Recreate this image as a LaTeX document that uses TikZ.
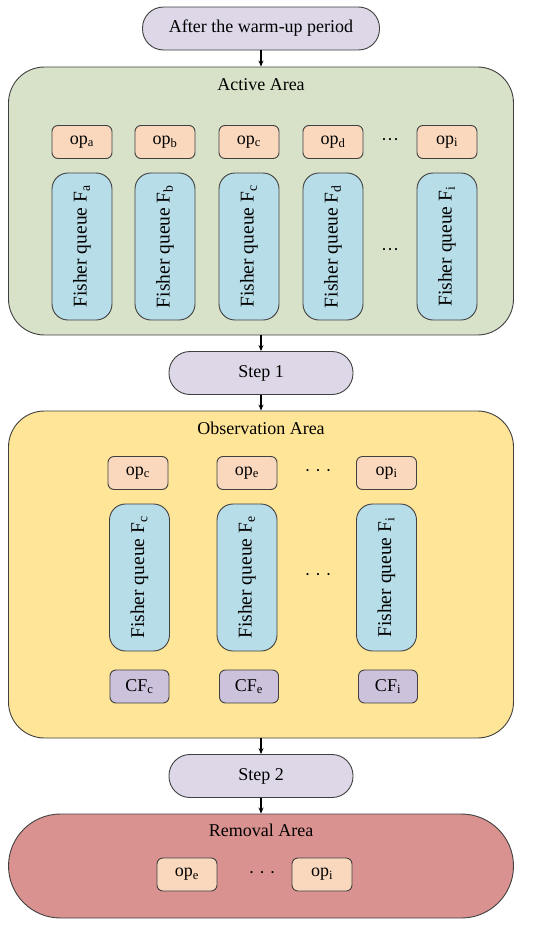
\documentclass[tikz,border=0pt]{standalone}
\usepackage{fontspec}
\setmainfont{Liberation Serif}
\usepackage{tikz}
\usetikzlibrary{positioning,arrows.meta,calc}
\definecolor{pill}{HTML}{DDD7E7}
\definecolor{activebg}{HTML}{D8E2C9}
\definecolor{obsbg}{HTML}{FFE597}
\definecolor{rembg}{HTML}{D9928F}
\definecolor{opfill}{HTML}{FAD8BE}
\definecolor{queuefill}{HTML}{B7DDE8}
\definecolor{cffill}{HTML}{CDC2DB}
\definecolor{edge}{HTML}{404040}

\begin{document}
\begin{tikzpicture}[
    x=1pt, y=-1pt,
    font=\fontsize{18}{21}\selectfont,
    base/.style={draw=edge, line width=0.9pt, inner sep=0pt},
    pill/.style={base, fill=pill, rounded corners=21pt, minimum height=43pt},
    area/.style={base, minimum width=505pt},
    opbox/.style={base, fill=opfill, rounded corners=6pt, minimum width=60pt, minimum height=33pt},
    cfbox/.style={base, fill=cffill, rounded corners=6pt, minimum width=59pt, minimum height=33pt},
    queue/.style={base, fill=queuefill, rounded corners=16pt, rotate=90, minimum width=147pt, minimum height=60pt, font=\fontsize{19.5}{22}\selectfont},
    arr/.style={-{Stealth[length=6pt,width=5pt]}, line width=1.1pt, black}
  ]
    \useasboundingbox (0,0) rectangle (550,926);

    % areas
    \node[area, fill=activebg, rounded corners=36pt, minimum height=268pt] (active) at (261,201) {};
    \node[area, fill=obsbg, rounded corners=36pt, minimum height=327pt] (obs) at (261,574.5) {};
    \node[area, fill=rembg, rounded corners=52pt, minimum height=104pt] (removal) at (261,866) {};

    \node (activet) at (261,85) {Active Area};
    \node (obst) at (261,428) {Observation Area};
    \node (removalt) at (261,830) {Removal Area};

    % steps
    \node[pill, minimum width=237pt] (warm) at (261,28.5) {After the warm-up period};
    \node[pill, minimum width=184pt] (step1) at (261,373) {Step 1};
    \node[pill, minimum width=184pt] (step2) at (261,776) {Step 2};

    \draw[arr] (warm) -- (active);
    \draw[arr] (active) -- (step1);
    \draw[arr] (step1) -- (obs);
    \draw[arr] (obs) -- (step2);
    \draw[arr] (step2) -- (removal);

    % active area
    \node[opbox] (opa) at (82,142) {op\textsubscript{a}};
    \node[opbox] (opb) at (165,142) {op\textsubscript{b}};
    \node[opbox] (opc) at (249,142) {op\textsubscript{c}};
    \node[opbox] (opd) at (333,142) {op\textsubscript{d}};
    \node (opdots) at (390,142) {···};
    \node[opbox] (opi) at (447,142) {op\textsubscript{i}};

    \node[queue] (fa) at (82,246.5) {Fisher queue F\textsubscript{a}};
    \node[queue] (fb) at (165,246.5) {Fisher queue F\textsubscript{b}};
    \node[queue] (fc) at (249,246.5) {Fisher queue F\textsubscript{c}};
    \node[queue] (fd) at (333,246.5) {Fisher queue F\textsubscript{d}};
    \node (fdots) at (390,252) {···};
    \node[queue] (fi) at (447,246.5) {Fisher queue F\textsubscript{i}};

    % observation area
    \node[opbox] (oopc) at (138,473) {op\textsubscript{c}};
    \node[opbox] (oope) at (247,473) {op\textsubscript{e}};
    \node (oopdots) at (318,473) {· · ·};
    \node[opbox] (oopi) at (386.5,473) {op\textsubscript{i}};

    \node[queue] (ofc) at (139.5,577.5) {Fisher queue F\textsubscript{c}};
    \node[queue] (ofe) at (247,577.5) {Fisher queue F\textsubscript{e}};
    \node (ofdots) at (318,577) {· · ·};
    \node[queue] (ofi) at (386.5,577.5) {Fisher queue F\textsubscript{i}};

    \node[cfbox] (cfc) at (139.5,686.5) {CF\textsubscript{c}};
    \node[cfbox] (cfe) at (249,686.5) {CF\textsubscript{e}};
    \node[cfbox] (cfi) at (388,686.5) {CF\textsubscript{i}};

    % removal area
    \node[opbox] (rope) at (187,874.5) {op\textsubscript{e}};
    \node (ropdots) at (262,874.5) {· · ·};
    \node[opbox] (ropi) at (322,874.5) {op\textsubscript{i}};
  \end{tikzpicture}
\end{document}
